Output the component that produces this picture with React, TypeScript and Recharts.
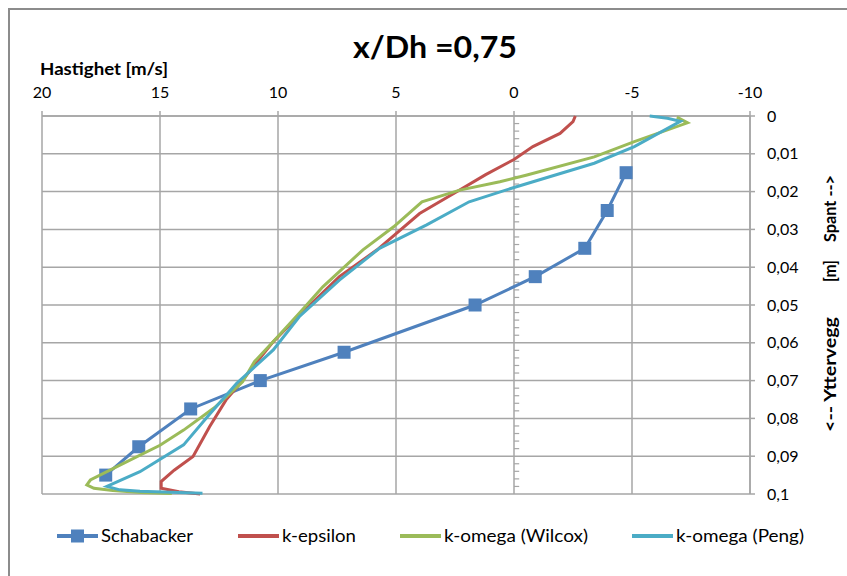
import React from 'react';
import { ScatterChart, Scatter, XAxis, YAxis, CartesianGrid, ReferenceLine } from 'recharts';

// ---- data (velocity [m/s], position [m]) ----
const schabackerVel = [-4.75, -3.95, -3.0, -0.9, 1.65, 7.2, 10.75, 13.7, 15.9, 17.3];
const schabackerPos = [0.015, 0.025, 0.035, 0.0425, 0.05, 0.0625, 0.07, 0.0775, 0.0875, 0.095];

const kEpsVel = [-2.6, -2.5, -1.95, -0.8, 0.0, 1.2, 2.5, 4.0, 5.8, 7.4, 9.1, 10.2, 11.05, 11.6, 12.2, 12.9, 13.6, 14.4, 14.95, 14.95, 14.2, 13.3];
const kEpsPos = [0, 0.0015, 0.0046, 0.0081, 0.0115, 0.0155, 0.0203, 0.0258, 0.0354, 0.0425, 0.0527, 0.0597, 0.0663, 0.0707, 0.0751, 0.0822, 0.0901, 0.0937, 0.0967, 0.0985, 0.0994, 0.1];

const wilcoxVel = [-6.9, -7.35, -5.1, -3.4, -0.55, 0.6, 2.3, 3.9, 5.1, 6.4, 8.1, 9.1, 10.1, 11.0, 11.5, 12.7, 14.0, 15.0, 16.55, 17.95, 18.1, 17.8, 17.0, 15.8, 14.5];
const wilcoxPos = [0.0003, 0.0018, 0.0068, 0.0108, 0.0156, 0.0174, 0.0196, 0.0227, 0.0293, 0.0354, 0.0452, 0.0522, 0.059, 0.065, 0.0703, 0.0772, 0.0831, 0.0871, 0.0919, 0.0963, 0.0976, 0.0985, 0.0991, 0.0996, 0.0999];

const pengVel = [-5.75, -6.5, -7.05, -5.1, -3.4, 0.0, 1.9, 3.7, 5.7, 7.4, 9.1, 10.2, 11.75, 13.0, 14.0, 15.85, 17.25, 16.7, 15.85, 13.2];
const pengPos = [0, 0.0006, 0.0014, 0.0081, 0.0125, 0.0189, 0.0227, 0.0288, 0.035, 0.0434, 0.0531, 0.0619, 0.0707, 0.0796, 0.087, 0.0941, 0.098, 0.0989, 0.0993, 0.0998];

const seriesNames = ['Schabacker', 'k-epsilon', 'k-omega (Wilcox)', 'k-omega (Peng)'];
const seriesColors = ['#4F81BD', '#C0504D', '#9BBB59', '#4BACC6'];

const xTicks = [20, 15, 10, 5, 0, -5, -10];
const yTicks = [0, 0.01, 0.02, 0.03, 0.04, 0.05, 0.06, 0.07, 0.08, 0.09, 0.1];
const minorYTicks = [
  0.002, 0.004, 0.006, 0.008, 0.012, 0.014, 0.016, 0.018, 0.022, 0.024, 0.026, 0.028,
  0.032, 0.034, 0.036, 0.038, 0.042, 0.044, 0.046, 0.048, 0.052, 0.054, 0.056, 0.058,
  0.062, 0.064, 0.066, 0.068, 0.072, 0.074, 0.076, 0.078, 0.082, 0.084, 0.086, 0.088,
  0.092, 0.094, 0.096, 0.098,
];

const title = 'x/Dh =0,75';
const xTitle = 'Hastighet [m/s]';
const yTitleParts = ['<-- Yttervegg', '[m]', 'Spant -->'];

const zip = (vs: number[], ps: number[]) => vs.map((v, i) => ({ v, y: ps[i] }));
const seriesData = [
  zip(schabackerVel, schabackerPos),
  zip(kEpsVel, kEpsPos),
  zip(wilcoxVel, wilcoxPos),
  zip(pengVel, pengPos),
];

const FONT = 'Lato, Carlito, Calibri, sans-serif';
const GRID = '#a6a6a6';
// layout (overlay svg coordinates)
const legendX = [47, 228, 390, 622];
const legendTextLen = [92, 74, 144, 128];
const yTitleStart = [-422, -272, -232];
const yTitleLen = [115, 22, 67];

const Square = (p: any) => (
  <rect x={p.cx - 6.5} y={p.cy - 6.5} width={13} height={13} fill={seriesColors[0]} />
);
const NoDot = () => <g />;

const fmtY = (v: number) => String(+v.toFixed(3)).replace('.', ',');

export default function App() {
  return (
    <div style={{ position: 'relative', margin: 8, width: 900, height: 600, borderTop: '2px solid #8c8c8c', borderLeft: '2px solid #8c8c8c', fontFamily: FONT }}>
      <style>{'html,body{overflow:hidden;margin:0} #root{width:960px;height:640px}'}</style>
      <ScatterChart width={837} height={500} margin={{ top: 76, right: 37, bottom: 16, left: 32 }}>
        <CartesianGrid stroke={GRID} strokeWidth={1.5} />
        <XAxis
          type="number"
          dataKey="v"
          orientation="top"
          reversed
          domain={[-10, 20]}
          ticks={xTicks}
          interval={0}
          height={30}
          tickSize={5}
          tickMargin={13}
          axisLine={{ stroke: GRID, strokeWidth: 1.5 }}
          tickLine={{ stroke: GRID, strokeWidth: 1.5 }}
          tick={{ fill: '#000', fontSize: 16, fontFamily: FONT }}
        />
        <YAxis
          type="number"
          dataKey="y"
          orientation="right"
          reversed
          domain={[0, 0.1]}
          ticks={yTicks}
          interval={0}
          width={60}
          tickSize={5}
          tickMargin={12}
          tickFormatter={fmtY}
          axisLine={{ stroke: GRID, strokeWidth: 1.5 }}
          tickLine={{ stroke: GRID, strokeWidth: 1.5 }}
          tick={{ fill: '#000', fontSize: 16, fontFamily: FONT }}
        />
        {minorYTicks.map((t) => (
          <ReferenceLine
            key={t}
            segment={[{ x: 0, y: t }, { x: -0.22, y: t }]}
            stroke={GRID}
            strokeWidth={1.2}
            ifOverflow="visible"
          />
        ))}
        {seriesData.map((d, i) => (
          <Scatter
            key={seriesNames[i]}
            name={seriesNames[i]}
            data={d}
            fill={seriesColors[i]}
            line={{ stroke: seriesColors[i], strokeWidth: 3 }}
            lineType="joint"
            shape={i === 0 ? Square : NoDot}
            isAnimationActive={false}
          />
        ))}
      </ScatterChart>
      <svg width={900} height={600} style={{ position: 'absolute', left: 0, top: 0, pointerEvents: 'none' }}>
        <text x={343} y={48} textLength={164} lengthAdjust="spacingAndGlyphs" fontFamily={FONT} fontWeight="bold" fontSize={31} fill="#000">{title}</text>
        <text x={30} y={65} textLength={128} lengthAdjust="spacingAndGlyphs" fontFamily={FONT} fontWeight="bold" fontSize={17} fill="#000">{xTitle}</text>
        <g transform="translate(821,0) rotate(-90)">
          {yTitleParts.map((t, i) => (
            <text
              key={t}
              x={yTitleStart[i]}
              y={5}
              textLength={yTitleLen[i]}
              lengthAdjust="spacingAndGlyphs"
              fontFamily={FONT}
              fontWeight="bold"
              fontSize={17}
              fill="#000"
            >
              {t}
            </text>
          ))}
        </g>
        {seriesNames.map((n, i) => (
          <g key={n}>
            <line x1={legendX[i]} x2={legendX[i] + 41} y1={526} y2={526} stroke={seriesColors[i]} strokeWidth={4} />
            {i === 0 && <rect x={legendX[i] + 14} y={519.5} width={13} height={13} fill={seriesColors[i]} />}
            <text x={legendX[i] + 44} y={532} textLength={legendTextLen[i]} lengthAdjust="spacingAndGlyphs" fontFamily={FONT} fontSize={17} fill="#000">{n}</text>
          </g>
        ))}
      </svg>
    </div>
  );
}
